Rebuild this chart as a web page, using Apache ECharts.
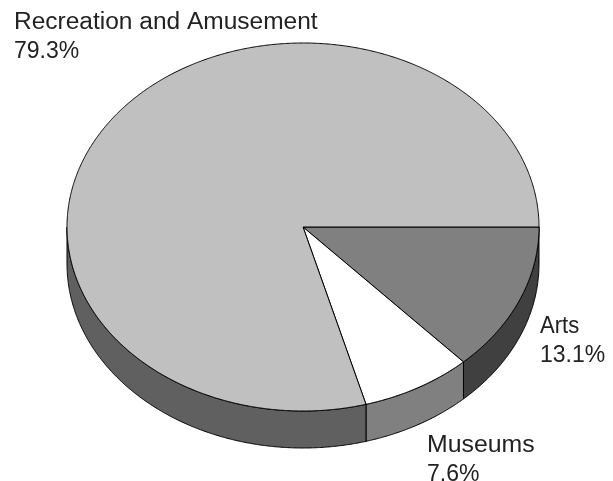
<!DOCTYPE html>
<html><head><meta charset="utf-8">
<style>html,body{margin:0;padding:0;background:#fff}#c{width:613px;height:481px}</style>
<script src="https://cdn.jsdelivr.net/npm/echarts@6/dist/echarts.min.js"></script>
</head><body><div id="c"></div>
<script>
const categories = ['Arts', 'Museums', 'Recreation and Amusement'];
const shares = [13.1, 7.6, 79.3];
const topColors = ['#808080', '#ffffff', '#c0c0c0'];
const sideColors = ['#404040', '#808080', '#606060'];
const labelAnchors = [[540, 333], [427, 452], [14, 29]];
const nameStretch = [0.96, 1.08, 1.065];

const geom = {cx: 303, cy: 227, rx: 236, ry: 184, depth: 37};
const lineGap = 29.5;
const font = '23px "Liberation Sans", Arial, sans-serif';
const total = shares.reduce((a, b) => a + b, 0);
function pt(a, dy) {
  return [geom.cx + geom.rx * Math.cos(a), geom.cy + geom.ry * Math.sin(a) + (dy || 0)];
}
function arc(a0, a1, dy) {
  const n = Math.max(2, Math.ceil(Math.abs(a1 - a0) / 0.005));
  const out = [];
  for (let i = 0; i <= n; i++) out.push(pt(a0 + (a1 - a0) * i / n, dy));
  return out;
}
const lineStyle = {stroke: '#000', lineWidth: 1};
function textEl(text, x, y, sx) {
  return {
    type: 'text', x, y, scaleX: sx, scaleY: 1,
    style: {text, font, fill: '#222', align: 'left', verticalAlign: 'bottom'}
  };
}
function renderItem(params, api) {
  const i = params.dataIndex;
  let before = 0;
  for (let k = 0; k < i; k++) before += shares[k];
  const a0 = before / total * 2 * Math.PI;
  const a1 = (before + api.value(1)) / total * 2 * Math.PI;
  const children = [];
  const s0 = Math.min(a0, Math.PI), s1 = Math.min(a1, Math.PI);
  if (s1 > s0) {
    children.push({
      type: 'polygon',
      shape: {points: arc(s0, s1, 0).concat(arc(s1, s0, geom.depth))},
      style: Object.assign({fill: sideColors[i]}, lineStyle)
    });
  }
  children.push({
    type: 'polygon',
    shape: {points: [[geom.cx, geom.cy]].concat(arc(a0, a1, 0))},
    style: Object.assign({fill: topColors[i]}, lineStyle)
  });
  const [lx, ly] = labelAnchors[i];
  // verticalAlign bottom sits the descender on y; shift to the baseline
  const descent = 5;
  children.push(textEl(categories[i], lx, ly + descent, nameStretch[i]));
  children.push(textEl(api.value(1).toFixed(1) + '%', lx, ly + lineGap + descent, 1));
  return {type: 'group', children};
}
const chart = echarts.init(document.getElementById('c'), null, {renderer: 'canvas'});
chart.setOption({
  animation: false,
  backgroundColor: '#fff',
  series: [{
    type: 'custom',
    coordinateSystem: 'none',
    renderItem,
    data: categories.map((c, i) => [i, shares[i]]),
    silent: true
  }]
});
</script></body></html>
